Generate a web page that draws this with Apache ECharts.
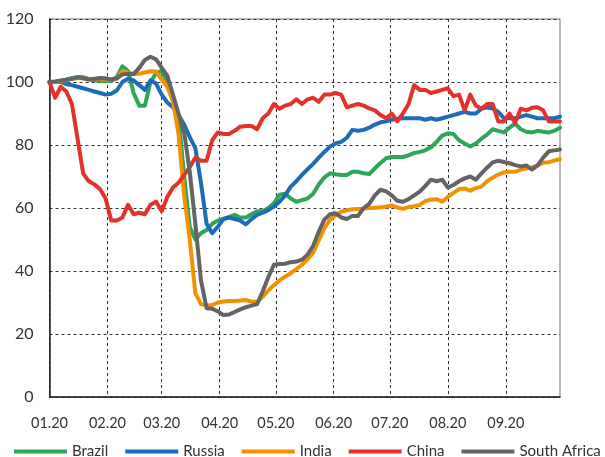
<!DOCTYPE html>
<html><head><meta charset="utf-8">
<script src="https://cdn.jsdelivr.net/npm/echarts@6/dist/echarts.min.js"></script>
<style>html,body{margin:0;padding:0;background:#fff}#c{width:605px;height:457px}</style>
</head><body><div id="c"></div>
<script>
// Sample step (days) between readings, starting 1 Jan 2020
var stepDays = 3;
var seriesNames = ['Brazil', 'Russia', 'India', 'China', 'South Africa'];
var monthTickLabels = ['01.20','02.20','03.20','04.20','05.20','06.20','07.20','08.20','09.20'];

var brazil = [100,100,100.3,100.8,101.3,101.5,101.5,101,100.5,100.5,100.2,100.3,101.5,105,103.5,96.5,92.5,92.5,100,102.8,
  103.5,100,94,89,70,54,50,52,53,55,56,56.5,57.2,57.8,57,57,58,59,59,60,
  61.5,64.2,64.5,63,62,62.5,63,64.5,67.5,69.7,71,70.7,70.5,70.5,71.5,71.5,71,70.8,72.6,74.3,
  75.8,76.2,76.2,76.2,76.7,77.5,77.8,78.3,79.3,81,83,83.7,83.5,81.5,80.5,79.5,80.5,82,83.3,85,
  84.5,84,85.5,86.8,85,84.2,84,84.5,84.2,84,84.5,85.5];
var russia = [100,100,100,99.3,99,98.5,98,97.5,97,96.5,96,96.3,97.3,100,101,100.5,99,97.5,100.5,99.5,
  96,93.5,92,89.5,86.5,82.5,79,68,55,52,54,56.5,57,56.5,56,54.8,56.5,57.8,58.5,59.3,
  60.5,62,64,66.8,68.5,70.5,72.3,74,76,77.8,79.5,80.5,81,82.3,84.8,84.5,84.8,85.5,86.5,87.2,
  87.5,88,88.3,88.5,88.5,88.5,88.5,88,88.5,88,88.5,89,89.5,90,90.5,90,90,91.5,92,91.6,
  90.5,88.5,88.5,88.5,89,89.5,89,88.5,88.5,88.5,88.5,89];
var india = [100,100,100.3,100.6,101,101.3,101.2,100.8,101,101,100.8,100.7,101,103.5,103,102.6,102.6,103,103.4,103.3,
  100.8,98.5,94,83.5,64,50,33,29.5,29,29.2,30,30.3,30.5,30.5,30.6,30.8,30.3,30.2,31.8,33.8,
  35.5,37,38.2,39.3,40.6,42,43.7,45.8,49.8,53.6,56.2,57.8,58.8,59.3,59.6,59.7,59.8,60,60.1,60.2,
  60.5,60.8,60.2,59.7,60.3,60.6,61,62.2,62.6,62.8,62,63.5,64.8,66,66.2,65.5,66.3,66.8,68.5,69.6,
  70.6,71.3,71.5,71.5,72.2,72.5,72.9,73.5,74.4,74.5,75.1,75.5];
var china = [100,95,98.5,97,93,82,71,68.5,67.5,66,63,56,56,57,61,58,58.5,58,61,62,
  59,63.5,66.5,68,70.5,73,76,75,75,81.5,84,83.5,83.5,84.5,85.8,86,86,85,88.5,90,
  93,91.5,92.5,93,94.5,93,94.5,95,93.7,96,96,96.5,96,92,92.5,93,92.5,91.6,91,89.5,
  88.5,90,87.5,90,93,99,97.5,97.5,96.5,97,97.5,98,95.5,96,91,96,92.5,91.5,93,93,
  87.5,87.5,90,87,91.5,91,91.8,92,91,87.5,87.5,87.5];
var southAfrica = [100,100.2,100.5,100.7,101,101.5,101.2,100.8,101,101.3,101.2,100.8,101.2,102.4,102.6,102.5,104.5,107,108,107.2,
  104.5,102,96,90,84,71.5,55,37,28.2,28,27.2,26,26.2,27,27.8,28.5,29,29.5,33.5,38,
  42,42.2,42.3,42.8,43,43.6,45.2,48,52.5,56.3,58,58.3,57,56.5,57.5,57.5,60,61.3,64,65.8,
  65.3,64,62.3,62,62.8,64,65.2,67,69,68.5,69,66.5,67.3,68.5,69.4,70,69,71,72.8,74.5,
  75,74.6,74.2,73.6,73.2,73.5,72.2,73.5,76,78,78.3,78.6];
var colors = ['#2ea65a', '#1c6cb8', '#f39200', '#e3322b', '#646464'];

// daily category axis 2020-01-01 .. 2020-09-30
var days = [];
for (var d = 0; d < 274; d++) {
  var dt = new Date(Date.UTC(2020, 0, 1 + d));
  days.push(dt.toISOString().slice(0, 10));
}
function isMonthStart(i, v) { return v.slice(8, 10) === '01'; }
function fmt(v) {
  var m = parseInt(v.slice(5, 7), 10);
  return monthTickLabels[m - 1] || '';
}
function toPairs(arr) { return arr.map(function (v, i) { return [i * stepDays, v]; }); }

var allVals = [brazil, russia, india, china, southAfrica];
var series = seriesNames.map(function (n, k) {
  return {
    name: n, type: 'line', data: toPairs(allVals[k]), symbol: 'none',
    lineStyle: { width: 4, color: colors[k], join: 'round', cap: 'round' },
    itemStyle: { color: colors[k] }
  };
});

var chart = echarts.init(document.getElementById('c'), null, { renderer: 'canvas' });
var font = 'Lato, "Open Sans", sans-serif';
chart.setOption({
  animation: false,
  textStyle: { fontFamily: font },
  grid: { left: 49.5, right: 45, top: 19, bottom: 60, show: true, borderColor: '#777', borderWidth: 1 },
  legend: {
    left: 9, top: 439, width: 700, itemWidth: 53, itemHeight: 4, itemGap: 17, icon: 'rect',
    textStyle: { fontSize: 15, color: '#333', fontFamily: font },
    data: seriesNames
  },
  xAxis: {
    type: 'category', data: days, boundaryGap: false,
    axisLine: { lineStyle: { color: '#222', width: 1.5 } },
    axisTick: { show: false },
    axisLabel: { interval: isMonthStart, formatter: fmt, fontSize: 14.5, color: '#333', margin: 19, fontFamily: font },
    splitLine: { show: true, interval: isMonthStart, lineStyle: { type: [3, 3], color: '#333', width: 1 } }
  },
  yAxis: {
    type: 'value', min: 0, max: 120, interval: 20,
    axisLine: { show: true, lineStyle: { color: '#222', width: 1.5 } },
    axisTick: { show: false },
    axisLabel: { fontSize: 16, color: '#333', margin: 16, fontFamily: font },
    splitLine: { lineStyle: { type: [3, 3], color: '#333', width: 1 } }
  },
  series: series
});
</script></body></html>
